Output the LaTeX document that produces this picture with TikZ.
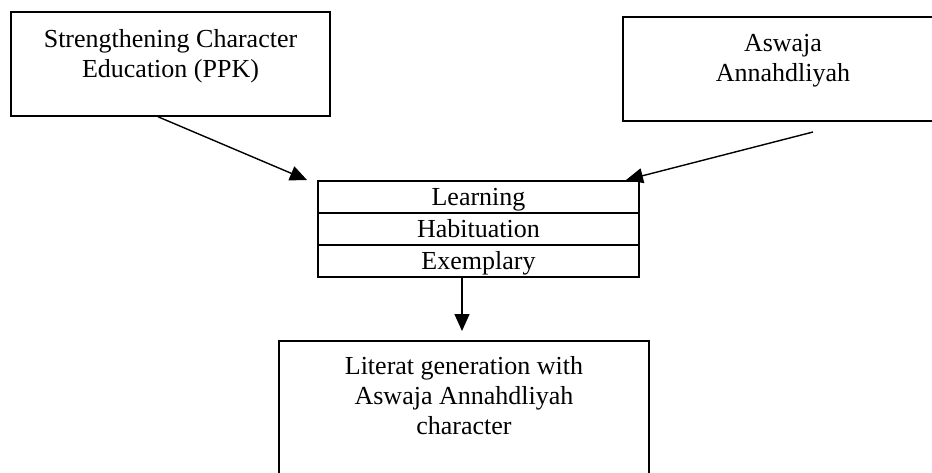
\documentclass[tikz,border=0pt]{standalone}
\usepackage{fontspec}
\setmainfont{Liberation Serif}
\usetikzlibrary{arrows.meta}

\begin{document}
\begin{tikzpicture}[x=0.5pt,y=-0.5pt,
  box/.style={draw,line width=0.75pt,align=center,inner sep=0pt,font=\fontsize{13}{15}\selectfont},
  row/.style={draw,line width=1pt,minimum width=160.5pt,minimum height=16pt,inner sep=0pt,text height=10pt,text depth=2pt,font=\fontsize{13}{15}\selectfont},
  arr/.style={line width=0.7pt,-{Triangle[length=8.5pt,width=7.5pt]}}]

\useasboundingbox (0,0) rectangle (932,472);
\clip (0,0) rectangle (932,472);

\node[box,minimum width=159.5pt,minimum height=52pt,text depth=11pt] (ppk) at (170.5,64) {Strengthening Character\\Education (PPK)};
\node[box,minimum width=160pt,minimum height=52pt,text depth=11pt] (aswaja) at (783,69) {Aswaja\\Annahdliyah};

\node[row] (learning) at (478.5,197) {Learning};
\node[row] (habituation) at (478.5,229) {Habituation};
\node[row] (exemplary) at (478.5,261) {Exemplary};

\node[box,minimum width=185pt,minimum height=75pt,text depth=21pt] (literat) at (464,416) {Literat generation with\\Aswaja Annahdliyah\\character};

\coordinate (ppktip) at (307,180);
\coordinate (aswajaout) at (813,132);
\coordinate (aswajatip) at (626,180);
\coordinate (literattip) at (462,331);

\draw[arr] ([xshift=-6.25pt]ppk.south) -- (ppktip);
\draw[arr] (aswajaout) -- (aswajatip);
\draw[arr] ([xshift=-8.25pt]exemplary.south) -- (literattip);
\end{tikzpicture}
\end{document}
